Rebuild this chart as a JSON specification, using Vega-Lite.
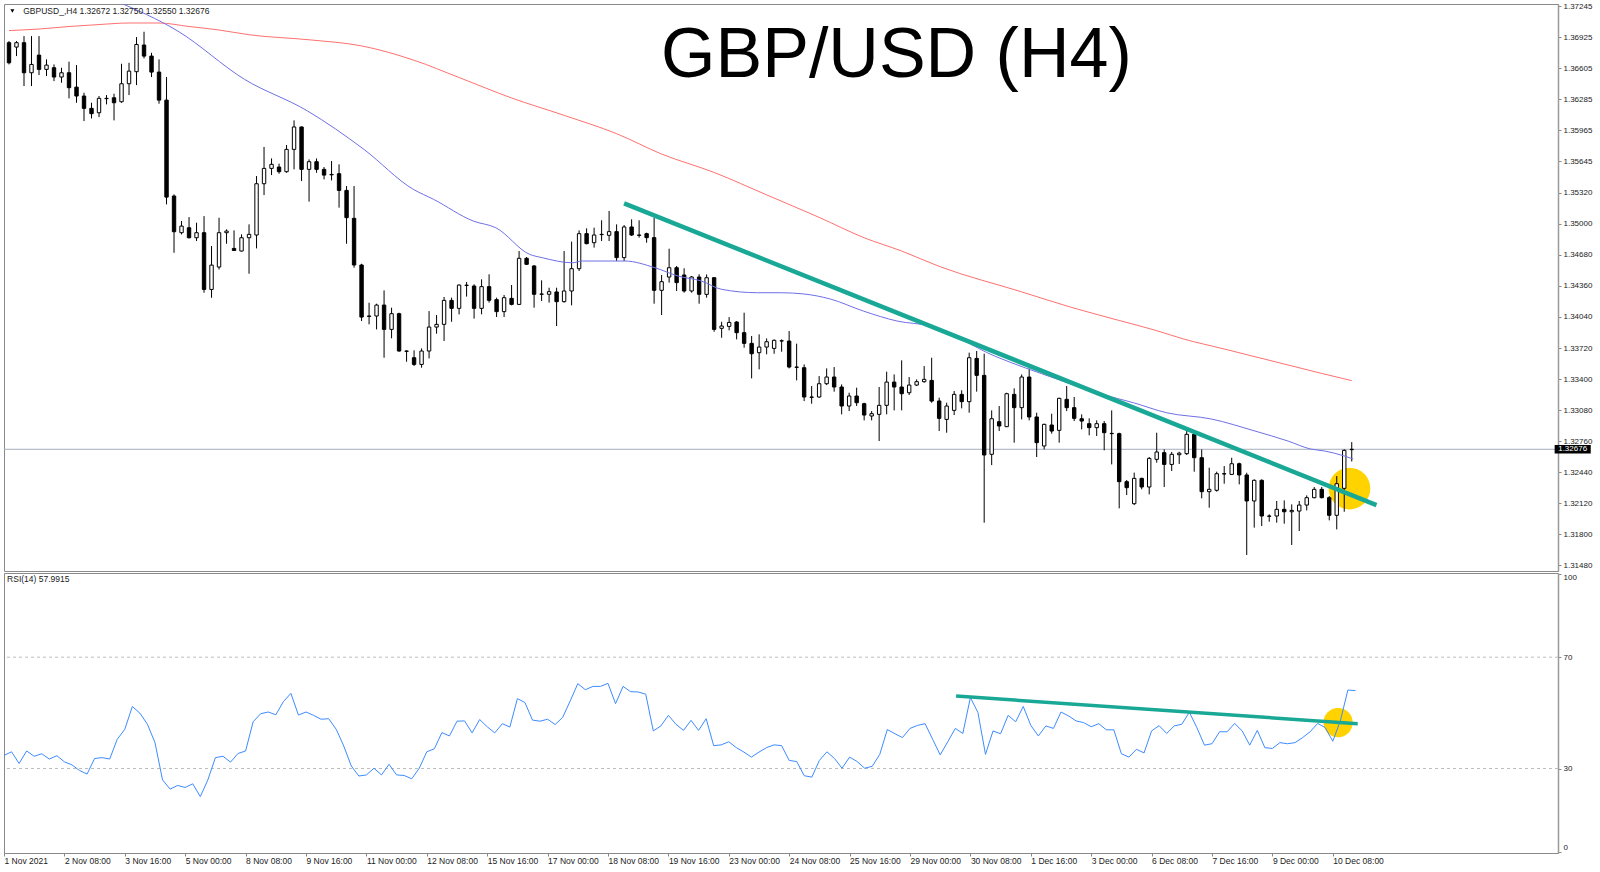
{
"$schema": "https://vega.github.io/schema/vega-lite/v6.json",
"padding": {"left": 3, "top": 1, "right": 0, "bottom": 0},
"background": "white",
"spacing": 0,
"resolve": {"scale": {"x": "independent", "y": "independent"}},
"config": {
 "view": {"stroke": "#8a8a8a", "strokeWidth": 1, "fill": "white"},
 "axis": {"labelFont": "Liberation Sans", "labelFontSize": 8, "labelColor": "#222222", "domainColor": "#9a9a9a", "domainWidth": 1.5, "tickColor": "#888888", "tickSize": 3, "grid": false, "title": null, "labelPadding": 2, "labelOverlap": false},
 "text": {"font": "Liberation Sans"}
},
"datasets": {
 "candles": [
{"i":0,"o":1.36868,"h":1.36885,"l":1.36644,"c":1.36661},
{"i":1,"o":1.36823,"h":1.36885,"l":1.36730,"c":1.36868},
{"i":2,"o":1.36868,"h":1.36936,"l":1.36421,"c":1.36558},
{"i":3,"o":1.36558,"h":1.36936,"l":1.36421,"c":1.36644},
{"i":4,"o":1.36740,"h":1.36936,"l":1.36534,"c":1.36593},
{"i":5,"o":1.36593,"h":1.36696,"l":1.36524,"c":1.36637},
{"i":6,"o":1.36610,"h":1.36644,"l":1.36472,"c":1.36514},
{"i":7,"o":1.36514,"h":1.36610,"l":1.36455,"c":1.36558},
{"i":8,"o":1.36558,"h":1.36672,"l":1.36294,"c":1.36404},
{"i":9,"o":1.36410,"h":1.36637,"l":1.36249,"c":1.36318},
{"i":10,"o":1.36318,"h":1.36352,"l":1.36060,"c":1.36191},
{"i":11,"o":1.36191,"h":1.36249,"l":1.36087,"c":1.36136},
{"i":12,"o":1.36146,"h":1.36318,"l":1.36101,"c":1.36294},
{"i":13,"o":1.36294,"h":1.36328,"l":1.36232,"c":1.36291},
{"i":14,"o":1.36300,"h":1.36342,"l":1.36067,"c":1.36249},
{"i":15,"o":1.36259,"h":1.36651,"l":1.36249,"c":1.36445},
{"i":16,"o":1.36445,"h":1.36661,"l":1.36328,"c":1.36575},
{"i":17,"o":1.36569,"h":1.36926,"l":1.36431,"c":1.36850},
{"i":18,"o":1.36844,"h":1.36981,"l":1.36706,"c":1.36730},
{"i":19,"o":1.36730,"h":1.36764,"l":1.36514,"c":1.36565},
{"i":20,"o":1.36565,"h":1.36696,"l":1.36239,"c":1.36276},
{"i":21,"o":1.36276,"h":1.36514,"l":1.35201,"c":1.35276},
{"i":22,"o":1.35287,"h":1.35304,"l":1.34702,"c":1.34919},
{"i":23,"o":1.34909,"h":1.35029,"l":1.34891,"c":1.34977},
{"i":24,"o":1.34960,"h":1.35070,"l":1.34850,"c":1.34857},
{"i":25,"o":1.34857,"h":1.35012,"l":1.34823,"c":1.34909},
{"i":26,"o":1.34909,"h":1.35080,"l":1.34290,"c":1.34324},
{"i":27,"o":1.34324,"h":1.34771,"l":1.34238,"c":1.34575},
{"i":28,"o":1.34555,"h":1.35063,"l":1.34530,"c":1.34909},
{"i":29,"o":1.34909,"h":1.34943,"l":1.34795,"c":1.34926},
{"i":30,"o":1.34747,"h":1.34933,"l":1.34720,"c":1.34726},
{"i":31,"o":1.34720,"h":1.34892,"l":1.34715,"c":1.34857},
{"i":32,"o":1.34857,"h":1.34995,"l":1.34486,"c":1.34892},
{"i":33,"o":1.34885,"h":1.35493,"l":1.34747,"c":1.35414},
{"i":34,"o":1.35414,"h":1.35793,"l":1.35297,"c":1.35572},
{"i":35,"o":1.35572,"h":1.35675,"l":1.35503,"c":1.35614},
{"i":36,"o":1.35586,"h":1.35621,"l":1.35517,"c":1.35538},
{"i":37,"o":1.35538,"h":1.35813,"l":1.35527,"c":1.35768},
{"i":38,"o":1.35768,"h":1.36067,"l":1.35562,"c":1.35999},
{"i":39,"o":1.35999,"h":1.36005,"l":1.35441,"c":1.35562},
{"i":40,"o":1.35562,"h":1.35665,"l":1.35229,"c":1.35641},
{"i":41,"o":1.35641,"h":1.35675,"l":1.35527,"c":1.35562},
{"i":42,"o":1.35562,"h":1.35586,"l":1.35459,"c":1.35503},
{"i":43,"o":1.35510,"h":1.35648,"l":1.35448,"c":1.35506},
{"i":44,"o":1.35517,"h":1.35614,"l":1.35167,"c":1.35345},
{"i":45,"o":1.35345,"h":1.35390,"l":1.34795,"c":1.35064},
{"i":46,"o":1.35057,"h":1.35390,"l":1.34548,"c":1.34576},
{"i":47,"o":1.34576,"h":1.34589,"l":1.33998,"c":1.34039},
{"i":48,"o":1.34050,"h":1.34187,"l":1.33964,"c":1.34046},
{"i":49,"o":1.34050,"h":1.34177,"l":1.33912,"c":1.34163},
{"i":50,"o":1.34163,"h":1.34314,"l":1.33620,"c":1.33912},
{"i":51,"o":1.33912,"h":1.34136,"l":1.33820,"c":1.34074},
{"i":52,"o":1.34074,"h":1.34084,"l":1.33682,"c":1.33689},
{"i":53,"o":1.33689,"h":1.33696,"l":1.33579,"c":1.33686},
{"i":54,"o":1.33620,"h":1.33696,"l":1.33534,"c":1.33551},
{"i":55,"o":1.33551,"h":1.33716,"l":1.33517,"c":1.33689},
{"i":56,"o":1.33689,"h":1.34101,"l":1.33613,"c":1.33936},
{"i":57,"o":1.33936,"h":1.34060,"l":1.33868,"c":1.33964},
{"i":58,"o":1.33964,"h":1.34246,"l":1.33792,"c":1.34211},
{"i":59,"o":1.34211,"h":1.34239,"l":1.33991,"c":1.34129},
{"i":60,"o":1.34129,"h":1.34376,"l":1.34067,"c":1.34369},
{"i":61,"o":1.34365,"h":1.34400,"l":1.34250,"c":1.34368},
{"i":62,"o":1.34359,"h":1.34377,"l":1.34023,"c":1.34129},
{"i":63,"o":1.34129,"h":1.34428,"l":1.34067,"c":1.34353},
{"i":64,"o":1.34353,"h":1.34480,"l":1.34188,"c":1.34212},
{"i":65,"o":1.34219,"h":1.34239,"l":1.34040,"c":1.34095},
{"i":66,"o":1.34095,"h":1.34267,"l":1.34040,"c":1.34239},
{"i":67,"o":1.34232,"h":1.34370,"l":1.34160,"c":1.34170},
{"i":68,"o":1.34170,"h":1.34720,"l":1.34164,"c":1.34645},
{"i":69,"o":1.34645,"h":1.34658,"l":1.34576,"c":1.34583},
{"i":70,"o":1.34566,"h":1.34576,"l":1.34136,"c":1.34274},
{"i":71,"o":1.34274,"h":1.34418,"l":1.34205,"c":1.34277},
{"i":72,"o":1.34274,"h":1.34342,"l":1.34188,"c":1.34301},
{"i":73,"o":1.34298,"h":1.34342,"l":1.33947,"c":1.34198},
{"i":74,"o":1.34198,"h":1.34720,"l":1.34188,"c":1.34308},
{"i":75,"o":1.34308,"h":1.34817,"l":1.34160,"c":1.34538},
{"i":76,"o":1.34538,"h":1.34933,"l":1.34514,"c":1.34899},
{"i":77,"o":1.34899,"h":1.34954,"l":1.34789,"c":1.34796},
{"i":78,"o":1.34806,"h":1.34961,"l":1.34755,"c":1.34885},
{"i":79,"o":1.34892,"h":1.35037,"l":1.34823,"c":1.34889},
{"i":80,"o":1.34882,"h":1.35133,"l":1.34823,"c":1.34920},
{"i":81,"o":1.34920,"h":1.34995,"l":1.34617,"c":1.34652},
{"i":82,"o":1.34652,"h":1.34988,"l":1.34617,"c":1.34968},
{"i":83,"o":1.34968,"h":1.35047,"l":1.34875,"c":1.34885},
{"i":84,"o":1.34885,"h":1.35037,"l":1.34858,"c":1.34882},
{"i":85,"o":1.34899,"h":1.34909,"l":1.34806,"c":1.34858},
{"i":86,"o":1.34858,"h":1.35064,"l":1.34177,"c":1.34315},
{"i":87,"o":1.34315,"h":1.34473,"l":1.34060,"c":1.34404},
{"i":88,"o":1.34452,"h":1.34744,"l":1.34394,"c":1.34548},
{"i":89,"o":1.34548,"h":1.34566,"l":1.34308,"c":1.34394},
{"i":90,"o":1.34473,"h":1.34542,"l":1.34291,"c":1.34308},
{"i":91,"o":1.34308,"h":1.34463,"l":1.34291,"c":1.34452},
{"i":92,"o":1.34452,"h":1.34480,"l":1.34177,"c":1.34274},
{"i":93,"o":1.34273,"h":1.34479,"l":1.34239,"c":1.34445},
{"i":94,"o":1.34445,"h":1.34450,"l":1.33888,"c":1.33912},
{"i":95,"o":1.33923,"h":1.33991,"l":1.33826,"c":1.33947},
{"i":96,"o":1.33943,"h":1.34039,"l":1.33902,"c":1.33984},
{"i":97,"o":1.33988,"h":1.33998,"l":1.33809,"c":1.33878},
{"i":98,"o":1.33878,"h":1.34084,"l":1.33723,"c":1.33768},
{"i":99,"o":1.33768,"h":1.33844,"l":1.33407,"c":1.33661},
{"i":100,"o":1.33672,"h":1.33861,"l":1.33500,"c":1.33730},
{"i":101,"o":1.33730,"h":1.33819,"l":1.33655,"c":1.33785},
{"i":102,"o":1.33716,"h":1.33809,"l":1.33661,"c":1.33799},
{"i":103,"o":1.33792,"h":1.33809,"l":1.33682,"c":1.33795},
{"i":104,"o":1.33792,"h":1.33895,"l":1.33510,"c":1.33524},
{"i":105,"o":1.33524,"h":1.33765,"l":1.33386,"c":1.33521},
{"i":106,"o":1.33517,"h":1.33551,"l":1.33173,"c":1.33215},
{"i":107,"o":1.33215,"h":1.33328,"l":1.33146,"c":1.33212},
{"i":108,"o":1.33215,"h":1.33431,"l":1.33208,"c":1.33352},
{"i":109,"o":1.33352,"h":1.33510,"l":1.33338,"c":1.33421},
{"i":110,"o":1.33421,"h":1.33524,"l":1.33270,"c":1.33318},
{"i":111,"o":1.33318,"h":1.33345,"l":1.33036,"c":1.33122},
{"i":112,"o":1.33122,"h":1.33259,"l":1.33070,"c":1.33225},
{"i":113,"o":1.33225,"h":1.33311,"l":1.33122,"c":1.33156},
{"i":114,"o":1.33146,"h":1.33156,"l":1.32974,"c":1.33029},
{"i":115,"o":1.33019,"h":1.33070,"l":1.32974,"c":1.33043},
{"i":116,"o":1.33036,"h":1.33318,"l":1.32761,"c":1.33129},
{"i":117,"o":1.33129,"h":1.33476,"l":1.33036,"c":1.33369},
{"i":118,"o":1.33369,"h":1.33448,"l":1.33077,"c":1.33318},
{"i":119,"o":1.33318,"h":1.33593,"l":1.33077,"c":1.33249},
{"i":120,"o":1.33259,"h":1.33421,"l":1.33235,"c":1.33338},
{"i":121,"o":1.33338,"h":1.33397,"l":1.33328,"c":1.33373},
{"i":122,"o":1.33373,"h":1.33534,"l":1.33362,"c":1.33397},
{"i":123,"o":1.33386,"h":1.33620,"l":1.33156,"c":1.33173},
{"i":124,"o":1.33174,"h":1.33208,"l":1.32864,"c":1.32995},
{"i":125,"o":1.32984,"h":1.33156,"l":1.32847,"c":1.33122},
{"i":126,"o":1.33077,"h":1.33277,"l":1.33029,"c":1.33242},
{"i":127,"o":1.33242,"h":1.33284,"l":1.33098,"c":1.33167},
{"i":128,"o":1.33167,"h":1.33672,"l":1.33053,"c":1.33620},
{"i":129,"o":1.33613,"h":1.33689,"l":1.33270,"c":1.33438},
{"i":130,"o":1.33438,"h":1.33662,"l":1.31919,"c":1.32617},
{"i":131,"o":1.32624,"h":1.33077,"l":1.32513,"c":1.32991},
{"i":132,"o":1.32960,"h":1.33122,"l":1.32864,"c":1.32916},
{"i":133,"o":1.32909,"h":1.33259,"l":1.32905,"c":1.33249},
{"i":134,"o":1.33242,"h":1.33304,"l":1.32744,"c":1.33105},
{"i":135,"o":1.33105,"h":1.33448,"l":1.32984,"c":1.33421},
{"i":136,"o":1.33421,"h":1.33510,"l":1.32974,"c":1.33009},
{"i":137,"o":1.33009,"h":1.33053,"l":1.32596,"c":1.32744},
{"i":138,"o":1.32710,"h":1.32940,"l":1.32675,"c":1.32933},
{"i":139,"o":1.32926,"h":1.33043,"l":1.32837,"c":1.32864},
{"i":140,"o":1.32871,"h":1.33208,"l":1.32744,"c":1.33201},
{"i":141,"o":1.33191,"h":1.33328,"l":1.33070,"c":1.33105},
{"i":142,"o":1.33105,"h":1.33215,"l":1.32967,"c":1.32995},
{"i":143,"o":1.32991,"h":1.33036,"l":1.32881,"c":1.32967},
{"i":144,"o":1.32940,"h":1.32995,"l":1.32820,"c":1.32899},
{"i":145,"o":1.32899,"h":1.32974,"l":1.32813,"c":1.32940},
{"i":146,"o":1.32940,"h":1.32967,"l":1.32665,"c":1.32847},
{"i":147,"o":1.32840,"h":1.33077,"l":1.32520,"c":1.32837},
{"i":148,"o":1.32837,"h":1.32847,"l":1.32067,"c":1.32342},
{"i":149,"o":1.32342,"h":1.32359,"l":1.32204,"c":1.32280},
{"i":150,"o":1.32115,"h":1.32435,"l":1.32101,"c":1.32376},
{"i":151,"o":1.32376,"h":1.32383,"l":1.32263,"c":1.32287},
{"i":152,"o":1.32287,"h":1.32596,"l":1.32211,"c":1.32582},
{"i":153,"o":1.32572,"h":1.32847,"l":1.32538,"c":1.32648},
{"i":154,"o":1.32641,"h":1.32675,"l":1.32287,"c":1.32520},
{"i":155,"o":1.32520,"h":1.32648,"l":1.32452,"c":1.32624},
{"i":156,"o":1.32620,"h":1.32650,"l":1.32525,"c":1.32636},
{"i":157,"o":1.32631,"h":1.32881,"l":1.32617,"c":1.32830},
{"i":158,"o":1.32830,"h":1.32847,"l":1.32445,"c":1.32589},
{"i":159,"o":1.32589,"h":1.32675,"l":1.32170,"c":1.32239},
{"i":160,"o":1.32239,"h":1.32486,"l":1.32074,"c":1.32263},
{"i":161,"o":1.32253,"h":1.32445,"l":1.32239,"c":1.32424},
{"i":162,"o":1.32424,"h":1.32503,"l":1.32321,"c":1.32421},
{"i":163,"o":1.32417,"h":1.32589,"l":1.32411,"c":1.32527},
{"i":164,"o":1.32527,"h":1.32538,"l":1.32314,"c":1.32411},
{"i":165,"o":1.32411,"h":1.32434,"l":1.31586,"c":1.32143},
{"i":166,"o":1.32143,"h":1.32366,"l":1.31868,"c":1.32356},
{"i":167,"o":1.32356,"h":1.32366,"l":1.31885,"c":1.31988},
{"i":168,"o":1.31988,"h":1.32005,"l":1.31929,"c":1.31985},
{"i":169,"o":1.31988,"h":1.32143,"l":1.31919,"c":1.32057},
{"i":170,"o":1.32057,"h":1.32149,"l":1.31909,"c":1.32032},
{"i":171,"o":1.32032,"h":1.32108,"l":1.31689,"c":1.32046},
{"i":172,"o":1.32039,"h":1.32143,"l":1.31833,"c":1.32101},
{"i":173,"o":1.32101,"h":1.32201,"l":1.32046,"c":1.32177},
{"i":174,"o":1.32177,"h":1.32287,"l":1.32170,"c":1.32263},
{"i":175,"o":1.32263,"h":1.32287,"l":1.32170,"c":1.32177},
{"i":176,"o":1.32177,"h":1.32194,"l":1.31943,"c":1.31995},
{"i":177,"o":1.31995,"h":1.32400,"l":1.31850,"c":1.32321},
{"i":178,"o":1.32273,"h":1.32675,"l":1.32032,"c":1.32665},
{"i":179,"o":1.32672,"h":1.32750,"l":1.32550,"c":1.32676}
 ],
 "rsi": [
{"i":0,"r":34.7},{"i":1,"r":36.0},{"i":2,"r":31.8},{"i":3,"r":36.3},{"i":4,"r":34.4},{"i":5,"r":35.3},{"i":6,"r":33.4},{"i":7,"r":34.6},{"i":8,"r":32.4},{"i":9,"r":31.3},
{"i":10,"r":29.3},{"i":11,"r":28.0},{"i":12,"r":33.6},{"i":13,"r":33.9},{"i":14,"r":33.4},{"i":15,"r":40.5},{"i":16,"r":44.1},{"i":17,"r":52.3},{"i":18,"r":49.9},{"i":19,"r":45.9},
{"i":20,"r":39.3},{"i":21,"r":25.9},{"i":22,"r":22.6},{"i":23,"r":23.9},{"i":24,"r":23.2},{"i":25,"r":24.5},{"i":26,"r":19.9},{"i":27,"r":25.9},{"i":28,"r":33.9},{"i":29,"r":34.4},
{"i":30,"r":32.3},{"i":31,"r":35.4},{"i":32,"r":36.3},{"i":33,"r":46.8},{"i":34,"r":49.7},{"i":35,"r":50.3},{"i":36,"r":49.3},{"i":37,"r":54.0},{"i":38,"r":57.0},{"i":39,"r":49.2},
{"i":40,"r":50.3},{"i":41,"r":49.1},{"i":42,"r":47.7},{"i":43,"r":47.9},{"i":44,"r":44.1},{"i":45,"r":38.1},{"i":46,"r":30.9},{"i":47,"r":27.3},{"i":48,"r":27.7},{"i":49,"r":30.1},
{"i":50,"r":27.7},{"i":51,"r":31.5},{"i":52,"r":27.7},{"i":53,"r":27.5},{"i":54,"r":26.3},{"i":55,"r":30.1},{"i":56,"r":36.0},{"i":57,"r":37.1},{"i":58,"r":42.9},{"i":59,"r":41.7},
{"i":60,"r":47.0},{"i":61,"r":47.1},{"i":62,"r":42.8},{"i":63,"r":47.6},{"i":64,"r":45.0},{"i":65,"r":42.8},{"i":66,"r":46.1},{"i":67,"r":44.9},{"i":68,"r":55.1},{"i":69,"r":53.7},
{"i":70,"r":47.4},{"i":71,"r":47.0},{"i":72,"r":47.7},{"i":73,"r":45.8},{"i":74,"r":48.4},{"i":75,"r":54.3},{"i":76,"r":60.5},{"i":77,"r":58.3},{"i":78,"r":59.5},{"i":79,"r":59.5},
{"i":80,"r":60.6},{"i":81,"r":53.3},{"i":82,"r":59.5},{"i":83,"r":57.6},{"i":84,"r":57.5},{"i":85,"r":56.7},{"i":86,"r":43.5},{"i":87,"r":45.3},{"i":88,"r":49.1},{"i":89,"r":45.9},
{"i":90,"r":43.7},{"i":91,"r":47.3},{"i":92,"r":43.7},{"i":93,"r":47.9},{"i":94,"r":38.2},{"i":95,"r":38.5},{"i":96,"r":39.6},{"i":97,"r":37.5},{"i":98,"r":35.9},{"i":99,"r":34.1},
{"i":100,"r":35.9},{"i":101,"r":37.5},{"i":102,"r":38.5},{"i":103,"r":38.2},{"i":104,"r":32.9},{"i":105,"r":32.5},{"i":106,"r":27.4},{"i":107,"r":26.9},{"i":108,"r":32.9},{"i":109,"r":36.0},
{"i":110,"r":33.6},{"i":111,"r":30.1},{"i":112,"r":34.1},{"i":113,"r":32.5},{"i":114,"r":30.1},{"i":115,"r":30.8},{"i":116,"r":35.1},{"i":117,"r":44.0},{"i":118,"r":42.5},{"i":119,"r":41.1},
{"i":120,"r":44.4},{"i":121,"r":45.5},{"i":122,"r":46.1},{"i":123,"r":40.5},{"i":124,"r":34.9},{"i":125,"r":39.6},{"i":126,"r":44.4},{"i":127,"r":42.6},{"i":128,"r":55.5},{"i":129,"r":50.1},
{"i":130,"r":35.1},{"i":131,"r":43.5},{"i":132,"r":42.5},{"i":133,"r":49.1},{"i":134,"r":46.8},{"i":135,"r":52.3},{"i":136,"r":45.5},{"i":137,"r":41.7},{"i":138,"r":45.3},{"i":139,"r":44.4},
{"i":140,"r":50.3},{"i":141,"r":48.9},{"i":142,"r":47.1},{"i":143,"r":46.5},{"i":144,"r":45.0},{"i":145,"r":46.1},{"i":146,"r":43.9},{"i":147,"r":43.9},{"i":148,"r":35.3},{"i":149,"r":34.1},
{"i":150,"r":36.9},{"i":151,"r":35.6},{"i":152,"r":43.5},{"i":153,"r":45.4},{"i":154,"r":42.6},{"i":155,"r":45.3},{"i":156,"r":45.9},{"i":157,"r":50.2},{"i":158,"r":44.7},{"i":159,"r":38.4},
{"i":160,"r":38.9},{"i":161,"r":43.2},{"i":162,"r":43.2},{"i":163,"r":46.2},{"i":164,"r":43.5},{"i":165,"r":38.4},{"i":166,"r":43.7},{"i":167,"r":37.5},{"i":168,"r":37.2},{"i":169,"r":39.3},
{"i":170,"r":38.9},{"i":171,"r":39.3},{"i":172,"r":41.1},{"i":173,"r":43.2},{"i":174,"r":46.2},{"i":175,"r":44.7},{"i":176,"r":39.8},{"i":177,"r":47.1},{"i":178,"r":58.2},{"i":179,"r":57.99}
 ],
 "red": [
{"i":0,"p":1.36993},{"i":4,"p":1.37009},{"i":8,"p":1.37035},{"i":12,"p":1.37055},{"i":16,"p":1.37071},{"i":20,"p":1.37071},{"i":24,"p":1.37035},{"i":28,"p":1.36999},{"i":32,"p":1.36950},
{"i":40,"p":1.36898},{"i":47,"p":1.36835},{"i":54,"p":1.36687},{"i":60,"p":1.36509},{"i":67,"p":1.36298},{"i":74,"p":1.36119},{"i":81,"p":1.35930},{"i":87,"p":1.35720},{"i":94,"p":1.35530},
{"i":101,"p":1.35299},{"i":108,"p":1.35067},{"i":114,"p":1.34857},{"i":119,"p":1.34720},{"i":124,"p":1.34562},{"i":135,"p":1.34299},{"i":141.5,"p":1.34142},{"i":148,"p":1.34004},
{"i":153,"p":1.33899},{"i":156.5,"p":1.33815},{"i":162,"p":1.33710},{"i":168.5,"p":1.33584},{"i":175,"p":1.33458},{"i":179,"p":1.33384}
 ],
 "blue": [
{"i":14.2,"p":1.37300},{"i":22.5,"p":1.36988},{"i":31.4,"p":1.36490},{"i":39.8,"p":1.36164},{"i":47.3,"p":1.35769},{"i":53.9,"p":1.35356},{"i":56.6,"p":1.35253},{"i":61.9,"p":1.35029},
{"i":64.9,"p":1.34960},{"i":69.4,"p":1.34686},{"i":71.1,"p":1.34651},{"i":75.1,"p":1.34599},{"i":76.4,"p":1.34617},{"i":82.1,"p":1.34617},{"i":86.1,"p":1.34548},{"i":89.2,"p":1.34462},
{"i":92.3,"p":1.34411},{"i":95,"p":1.34325},{"i":99.8,"p":1.34290},{"i":102.9,"p":1.34290},{"i":106,"p":1.34277},{"i":109.5,"p":1.34225},{"i":113.9,"p":1.34101},{"i":118.4,"p":1.33998},
{"i":122.8,"p":1.33947},{"i":131.4,"p":1.33637},{"i":139.7,"p":1.33400},{"i":145.6,"p":1.33245},{"i":149.9,"p":1.33156},{"i":154.3,"p":1.33053},{"i":160.3,"p":1.32988},{"i":166.1,"p":1.32864},
{"i":170.5,"p":1.32761},{"i":173.5,"p":1.32679},{"i":175.4,"p":1.32658},{"i":178,"p":1.32607},{"i":179.2,"p":1.32576}
 ],
 "trend": [{"i":82.0,"p":1.35212},{"i":182.3,"p":1.32101}],
 "rsitrend": [{"i":126.1,"r":56.05},{"i":179.3,"r":46.1}],
 "levels": [{"lv":70},{"lv":30}]
},
"vconcat": [
 {
  "width": 1554,
  "height": 567,
  "layer": [
   {
    "data": {"values": [{}]},
    "mark": {"type": "point", "filled": true, "color": "#ffd200", "opacity": 1, "size": 1735},
    "encoding": {
     "x": {"datum": 178.7, "type": "quantitative", "scale": {"domain": [0, 205.83], "nice": false, "zero": false}, "axis": null},
     "y": {"datum": 1.32271, "type": "quantitative", "scale": {"domain": [1.31421, 1.37267], "nice": false, "zero": false},
       "axis": {"orient": "right", "values": [1.3148,1.318,1.3212,1.3244,1.3276,1.3308,1.334,1.3372,1.3404,1.3436,1.3468,1.35,1.3532,1.35645,1.35965,1.36285,1.36605,1.36925,1.37245], "tickCount": 60, "format": ".5f", "labelOverlap": false}}
    }
   },
   {
    "data": {"values": [{}]},
    "mark": {"type": "rule", "color": "#a3adbd", "strokeWidth": 1},
    "encoding": {"y": {"datum": 1.32676, "type": "quantitative"}}
   },
   {
    "data": {"name": "candles"},
    "mark": {"type": "rule", "color": "#000000", "strokeWidth": 1, "clip": true},
    "encoding": {
     "x": {"field": "i", "type": "quantitative"},
     "y": {"field": "l", "type": "quantitative"},
     "y2": {"field": "h"}
    }
   },
   {
    "data": {"name": "candles"},
    "mark": {"type": "bar", "size": 3.4, "stroke": "#000000", "strokeWidth": 1, "clip": true},
    "encoding": {
     "x": {"field": "i", "type": "quantitative"},
     "y": {"field": "o", "type": "quantitative"},
     "y2": {"field": "c"},
     "fill": {"condition": {"test": "datum.c < datum.o", "value": "#000000"}, "value": "#ffffff"}
    }
   },
   {
    "data": {"name": "red"},
    "mark": {"type": "line", "color": "#ff7070", "strokeWidth": 1, "interpolate": "monotone", "clip": true},
    "encoding": {"x": {"field": "i", "type": "quantitative"}, "y": {"field": "p", "type": "quantitative"}}
   },
   {
    "data": {"name": "blue"},
    "mark": {"type": "line", "color": "#6f6fe6", "strokeWidth": 1, "interpolate": "monotone", "clip": true},
    "encoding": {"x": {"field": "i", "type": "quantitative"}, "y": {"field": "p", "type": "quantitative"}}
   },
   {
    "data": {"name": "trend"},
    "mark": {"type": "line", "color": "#1aa896", "strokeWidth": 4.5, "strokeCap": "butt"},
    "encoding": {"x": {"field": "i", "type": "quantitative"}, "y": {"field": "p", "type": "quantitative"}}
   },
   {
    "data": {"values": [{}]},
    "mark": {"type": "text", "text": "GBP/USD (H4)", "fontSize": 70, "font": "Liberation Sans", "color": "#000000", "align": "center", "baseline": "alphabetic"},
    "encoding": {"x": {"datum": 118.3, "type": "quantitative"}, "y": {"datum": 1.36514, "type": "quantitative"}}
   },
   {
    "data": {"values": [{}]},
    "mark": {"type": "point", "shape": "triangle-down", "filled": true, "color": "#000000", "size": 16, "opacity": 1},
    "encoding": {"x": {"datum": 0.45, "type": "quantitative"}, "y": {"datum": 1.37195, "type": "quantitative"}}
   },
   {
    "data": {"values": [{}]},
    "mark": {"type": "text", "text": "GBPUSD_,H4  1.32672 1.32750 1.32550 1.32676", "fontSize": 8.5, "color": "#1a1a1a", "align": "left", "baseline": "middle"},
    "encoding": {"x": {"datum": 1.9, "type": "quantitative"}, "y": {"datum": 1.37195, "type": "quantitative"}}
   },
   {
    "data": {"values": [{}]},
    "mark": {"type": "rect", "color": "#000000"},
    "encoding": {"x": {"datum": 206.05, "type": "quantitative"}, "x2": {"datum": 210.86}, "y": {"datum": 1.32633, "type": "quantitative"}, "y2": {"datum": 1.32719}}
   },
   {
    "data": {"values": [{}]},
    "mark": {"type": "text", "text": "1.32676", "fontSize": 8, "color": "#ffffff", "align": "center", "baseline": "middle"},
    "encoding": {"x": {"datum": 208.45, "type": "quantitative"}, "y": {"datum": 1.32676, "type": "quantitative"}}
   }
  ]
 },
 {
  "width": 1554,
  "height": 280,
  "layer": [
   {
    "data": {"name": "levels"},
    "mark": {"type": "rule", "color": "#bdbdbd", "strokeDash": [3, 3], "strokeWidth": 1},
    "encoding": {
     "y": {"field": "lv", "type": "quantitative", "scale": {"domain": [-0.36, 100.25], "nice": false, "zero": false},
       "axis": {"orient": "right", "values": [0, 30, 70, 100], "tickCount": 20, "labelBaseline": {"condition": [{"test": "datum.value === 100", "value": "top"}, {"test": "datum.value === 0", "value": "bottom"}], "value": "middle"}}}
    }
   },
   {
    "data": {"values": [{}]},
    "mark": {"type": "point", "filled": true, "color": "#ffd200", "opacity": 1, "size": 855},
    "encoding": {
     "x": {"datum": 176.7, "type": "quantitative", "scale": {"domain": [0, 205.83], "nice": false, "zero": false},
       "axis": {"values": [0,8,16,24,32,40,48,56,64,72,80,88,96,104,112,120,128,136,144,152,160,168,176], "tickCount": 60,
         "labelExpr": "['1 Nov 2021','2 Nov 08:00','3 Nov 16:00','5 Nov 00:00','8 Nov 08:00','9 Nov 16:00','11 Nov 00:00','12 Nov 08:00','15 Nov 16:00','17 Nov 00:00','18 Nov 08:00','19 Nov 16:00','23 Nov 00:00','24 Nov 08:00','25 Nov 16:00','29 Nov 00:00','30 Nov 08:00','1 Dec 16:00','3 Dec 00:00','6 Dec 08:00','7 Dec 16:00','9 Dec 00:00','10 Dec 08:00'][round(datum.value/8)]",
         "labelAlign": "left", "labelFontSize": 8.5, "labelFlush": false, "labelOverlap": false, "labelBound": false, "domain": false, "tickSize": 3, "labelPadding": 0}},
     "y": {"datum": 46.5, "type": "quantitative"}
    }
   },
   {
    "data": {"name": "rsi"},
    "mark": {"type": "line", "color": "#3d8bff", "strokeWidth": 1, "clip": true},
    "encoding": {"x": {"field": "i", "type": "quantitative"}, "y": {"field": "r", "type": "quantitative"}}
   },
   {
    "data": {"name": "rsitrend"},
    "mark": {"type": "line", "color": "#1aa896", "strokeWidth": 3.5, "strokeCap": "butt"},
    "encoding": {"x": {"field": "i", "type": "quantitative"}, "y": {"field": "r", "type": "quantitative"}}
   },
   {
    "data": {"values": [{}]},
    "mark": {"type": "text", "text": "RSI(14) 57.9915", "fontSize": 8.5, "color": "#1a1a1a", "align": "left", "baseline": "middle"},
    "encoding": {"x": {"datum": 0.41, "type": "quantitative"}, "y": {"datum": 98.1, "type": "quantitative"}}
   }
  ]
 }
]
}
